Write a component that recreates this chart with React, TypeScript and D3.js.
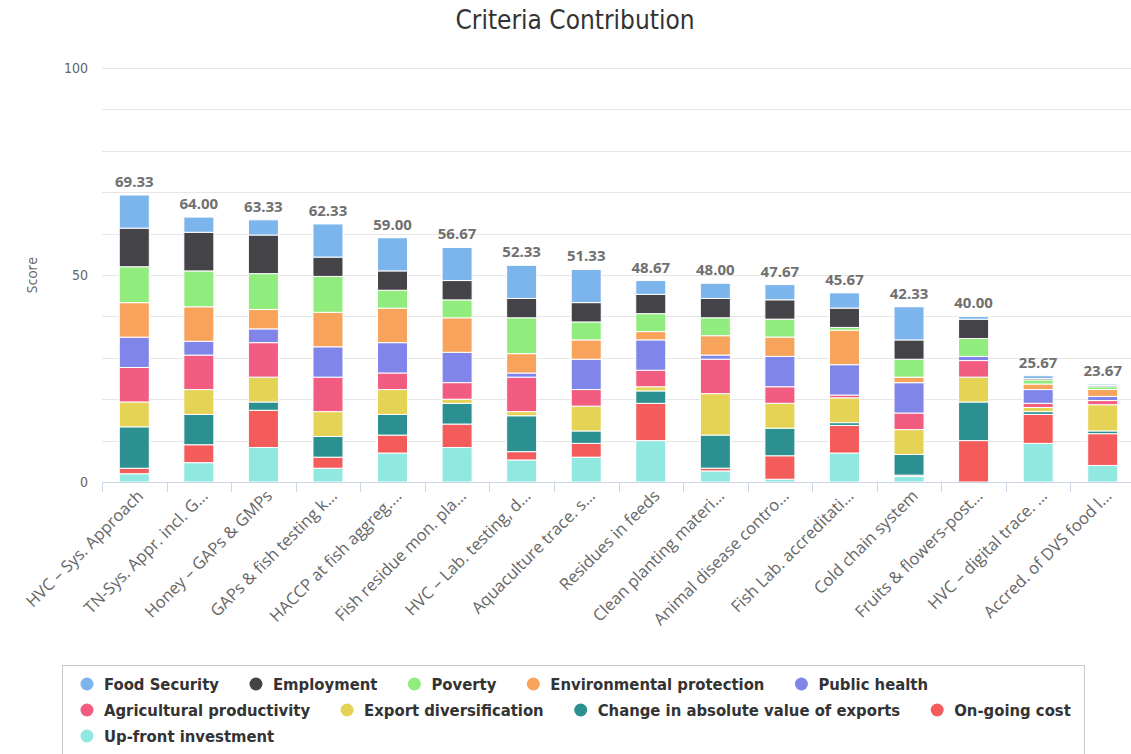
import React from "react";
import * as d3 from "d3";

const categories = [
  "HVC – Sys. Approach",
  "TN-Sys. Appr. incl. G…",
  "Honey – GAPs & GMPs",
  "GAPs & fish testing k…",
  "HACCP at fish aggreg.…",
  "Fish residue mon. pla…",
  "HVC – Lab. testing, d…",
  "Aquaculture trace. s…",
  "Residues in feeds",
  "Clean planting materi…",
  "Animal disease contro…",
  "Fish Lab. accreditati…",
  "Cold chain system",
  "Fruits & flowers-post…",
  "HVC – digital trace. …",
  "Accred. of DVS food l…",
];

const totals = [69.33, 64.0, 63.33, 62.33, 59.0, 56.67, 52.33, 51.33, 48.67, 48.0, 47.67, 45.67, 42.33, 40.0, 25.67, 23.67];

// series (legend order)
const foodSecurity = [8, 3.67, 3.67, 8, 8, 8, 8, 8, 3.33, 3.67, 3.67, 3.67, 8, 0.67, 0.67, 0.33];
const employment = [9.33, 9.33, 9.33, 4.67, 4.67, 4.67, 4.67, 4.67, 4.67, 4.67, 4.67, 4.67, 4.67, 4.67, 0.33, 0.33];
const poverty = [8.67, 8.67, 8.67, 8.67, 4.33, 4.33, 8.67, 4.33, 4.33, 4.33, 4.33, 0.67, 4.33, 4.33, 1, 0.67];
const environmentalProtection = [8.33, 8.33, 4.67, 8.33, 8.33, 8.33, 4.67, 4.67, 2, 4.67, 4.67, 8.33, 1.33, 0, 1.33, 1.67];
const publicHealth = [7.33, 3.33, 3.33, 7.33, 7.33, 7.33, 1, 7.33, 7.33, 1, 7.33, 7.33, 7.33, 1, 3.33, 1];
const agriculturalProductivity = [8.33, 8.33, 8.33, 8.33, 4, 4, 8.33, 4, 4, 8.33, 4, 0.67, 4, 4, 1, 1];
const exportDiversification = [6, 6, 6, 6, 6, 1, 1, 6, 1, 10, 6, 6, 6, 6, 1, 6.33];
const changeInExports = [10, 7.33, 2, 5, 5, 5, 8.67, 3, 3, 8, 6.67, 0.67, 5, 9.33, 0.67, 0.67];
const ongoingCost = [1.33, 4.33, 9, 2.67, 4.33, 5.67, 2, 3.33, 9, 0.67, 5.67, 6.67, 0.33, 10, 7, 7.67];
const upfrontInvestment = [2, 4.67, 8.33, 3.33, 7, 8.33, 5.33, 6, 10, 2.67, 0.67, 7, 1.33, 0, 9.33, 4];

const seriesNames = [
  "Food Security",
  "Employment",
  "Poverty",
  "Environmental protection",
  "Public health",
  "Agricultural productivity",
  "Export diversification",
  "Change in absolute value of exports",
  "On-going cost",
  "Up-front investment",
];
const seriesValues = [
  foodSecurity,
  employment,
  poverty,
  environmentalProtection,
  publicHealth,
  agriculturalProductivity,
  exportDiversification,
  changeInExports,
  ongoingCost,
  upfrontInvestment,
];
const seriesColors = [
  "#7cb5ec",
  "#434348",
  "#90ed7d",
  "#f7a35c",
  "#8085e9",
  "#f15c80",
  "#e4d354",
  "#2b908f",
  "#f45b5b",
  "#91e8e1",
];
const yTickLabels = [0, 50, 100];
const legendRowSizes = [5, 4, 1];

const W = 1131;
const H = 754;
const FONT = "'Open Sans', 'DejaVu Sans', sans-serif";
const COND = "'DejaVu Sans Condensed', 'DejaVu Sans', sans-serif";

function measure(text: string, font: string): number {
  const c = document.createElement("canvas").getContext("2d");
  if (!c) return text.length * 8;
  c.font = font;
  return c.measureText(text).width;
}

export default function App() {
  const plotLeft = 102;
  const plotRight = 1135;
  const y = d3.scaleLinear().domain([0, 100]).range([482, 68]);
  const x = d3.scaleBand<string>().domain(categories).range([plotLeft, plotRight]).paddingInner(0.535).paddingOuter(0.2675);
  const xTick = d3.scaleBand<string>().domain(categories).range([plotLeft, plotRight]).padding(0);

  const rows = categories.map((c, i) => {
    const r: any = { cat: c };
    seriesNames.forEach((n, s) => (r[n] = seriesValues[s][i]));
    return r;
  });
  const stackKeys = [...seriesNames].reverse();
  const stacked = d3.stack<any>().keys(stackKeys)(rows);
  const colorOf = (name: string) => seriesColors[seriesNames.indexOf(name)];

  const grid = d3.range(0, 101, 10);

  // legend layout
  const legendSize = 16.5;
  const legendFont = `bold ${legendSize}px 'DejaVu Sans Condensed', 'DejaVu Sans'`;
  const legendItems: { name: string; color: string; x: number; row: number }[] = [];
  let idx = 0;
  legendRowSizes.forEach((n, row) => {
    let lx = 80;
    for (let k = 0; k < n; k++, idx++) {
      const name = seriesNames[idx];
      legendItems.push({ name, color: seriesColors[idx], x: lx, row });
      lx += 24 + measure(name, legendFont) + 30;
    }
  });

  return (
    <div style={{ position: "absolute", left: 0, top: 0 }}>
      <svg width={W} height={H} style={{ display: "block", background: "#fff" }} fontFamily={FONT}>
        <text x={575} y={29} textAnchor="middle" fontSize={26} fill="#333" fontFamily={COND}>
          Criteria Contribution
        </text>
        {grid.map((g) => (
          <line key={g} x1={plotLeft} x2={W} y1={Math.round(y(g)) + 0.5} y2={Math.round(y(g)) + 0.5} stroke="#e6e6e6" strokeWidth={1} />
        ))}
        {yTickLabels.map((t) => (
          <text key={t} x={88} y={y(t) + 5} textAnchor="end" fontSize={14} fill="#666" fontFamily={COND}>
            {t}
          </text>
        ))}
        <text transform={`translate(37,${y(50)}) rotate(-90)`} textAnchor="middle" fontSize={14} fill="#666">
          Score
        </text>
        {stacked.map((layer) => (
          <g key={layer.key} fill={colorOf(layer.key)}>
            {layer.map((d, i) => {
              const h = y(d[0]) - y(d[1]);
              if (h <= 0) return null;
              return (
                <rect
                  key={i}
                  x={x(categories[i])}
                  y={y(d[1])}
                  width={x.bandwidth()}
                  height={h}
                  stroke="#fff"
                  strokeWidth={1}
                />
              );
            })}
          </g>
        ))}
        <line x1={plotLeft} x2={W} y1={482.5} y2={482.5} stroke="#ccd6eb" strokeWidth={1} />
        {categories.map((c) => (
          <line key={c} x1={Math.round(xTick(c)!) + 0.5} x2={Math.round(xTick(c)!) + 0.5} y1={482} y2={492} stroke="#ccd6eb" />
        ))}
        {categories.map((c) => (
          <text
            key={c}
            transform={`translate(${(x(c)! + x.bandwidth() / 2 + 10).toFixed(1)},497) rotate(-45)`}
            textAnchor="end"
            fontSize={16.5}
            fill="#666"
          >
            {c}
          </text>
        ))}
        {categories.map((c, i) => (
          <text
            key={c}
            x={x(c)! + x.bandwidth() / 2}
            y={y(totals[i]) - 8}
            textAnchor="middle"
            fontSize={15}
            fontWeight="bold"
            fill="#707070"
          >
            {totals[i].toFixed(2)}
          </text>
        ))}
        <rect x={62.5} y={665.5} width={1022} height={110} fill="none" stroke="#c8c8c8" />
        {legendItems.map((it) => (
          <g key={it.name} transform={`translate(${it.x},${684 + it.row * 26})`}>
            <circle cx={7} cy={0} r={6.5} fill={it.color} />
            <text x={24} y={6} fontSize={legendSize} fontWeight="bold" fill="#333" fontFamily={COND}>
              {it.name}
            </text>
          </g>
        ))}
      </svg>
    </div>
  );
}
